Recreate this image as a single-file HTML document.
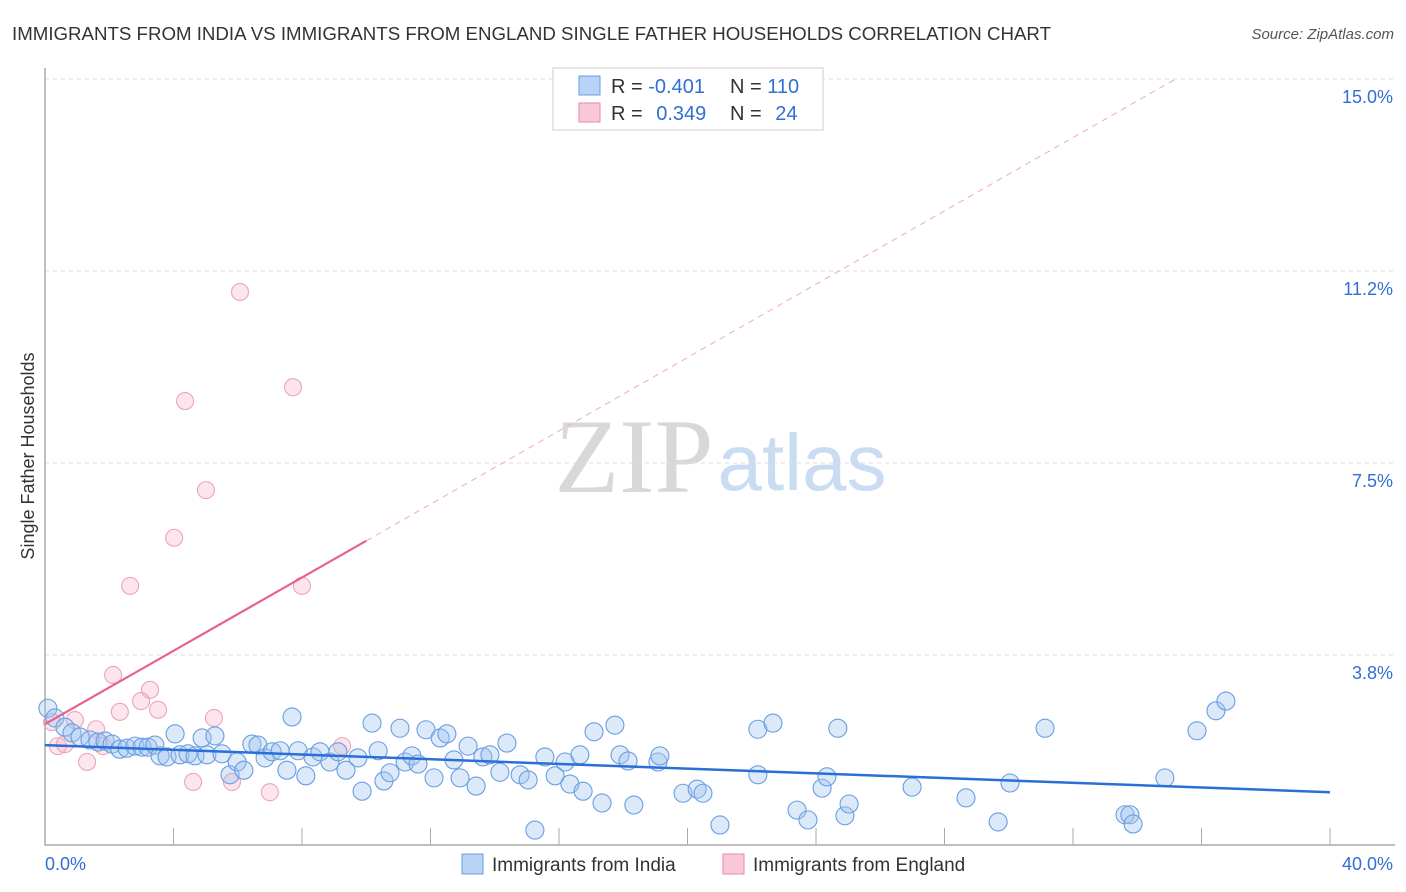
<!DOCTYPE html>
<html><head><meta charset="utf-8"><style>
body{margin:0;background:#fff;font-family:"Liberation Sans",sans-serif;}
svg{display:block}
</style></head><body>
<svg id="c" width="1406" height="892" xmlns="http://www.w3.org/2000/svg">
<text x="12" y="40" font-size="18" fill="#333" textLength="1039" lengthAdjust="spacingAndGlyphs">IMMIGRANTS FROM INDIA VS IMMIGRANTS FROM ENGLAND SINGLE FATHER HOUSEHOLDS CORRELATION CHART</text>
<text x="1394" y="39" font-size="15" fill="#555" text-anchor="end" font-style="italic">Source: ZipAtlas.com</text>
<g><text x="634" y="492" font-size="106" font-family="Liberation Serif,serif" fill="#d8d8d8" text-anchor="middle">ZIP</text><text x="802" y="490" font-size="80" fill="#c9dcf2" text-anchor="middle">atlas</text></g>
<text x="34" y="456" font-size="18" fill="#333" text-anchor="middle" transform="rotate(-90 34 456)">Single Father Households</text>
<g id="grid"></g><g id="axes"></g><g id="marks"></g>
<g>
<rect x="553" y="68" width="270" height="62" fill="#fff" stroke="#ccc"/>
<rect x="579" y="76" width="21" height="19" fill="#b8d3f5" stroke="#6a9de0"/>
<rect x="579" y="103" width="21" height="19" fill="#f9c8d6" stroke="#e58aa6"/>
<text x="611" y="93" font-size="20" fill="#333">R = <tspan fill="#2f6fd6">-0.401</tspan></text>
<text x="730" y="93" font-size="20" fill="#333">N = <tspan fill="#2f6fd6">110</tspan></text>
<text x="611" y="120" font-size="20" fill="#333">R = <tspan fill="#2f6fd6" dx="8">0.349</tspan></text>
<text x="730" y="120" font-size="20" fill="#333">N = <tspan fill="#2f6fd6" dx="8">24</tspan></text>
</g>
<g>
<rect x="462" y="854" width="21" height="20" fill="#b8d3f5" stroke="#6a9de0"/>
<text x="492" y="871" font-size="19" fill="#333">Immigrants from India</text>
<rect x="723" y="854" width="21" height="20" fill="#f9c8d6" stroke="#e58aa6"/>
<text x="753" y="871" font-size="19" fill="#333">Immigrants from England</text>
</g>
</svg>
<script>
const yTicks=[3.75,7.5,11.25,15];
const yTickLabels=["3.8%","7.5%","11.2%","15.0%"];
const xTickLabels=["0.0%","40.0%"];
const indiaX=[0.09,0.31,0.62,0.84,1.09,1.40,1.65,1.87,2.09,2.33,2.55,2.80,3.02,3.21,3.42,3.58,3.80,4.05,4.20,4.45,4.67,4.89,5.04,5.29,5.51,5.76,5.98,6.19,6.44,6.63,6.85,7.07,7.32,7.53,7.69,7.88,8.12,8.34,8.56,8.87,9.12,9.37,9.74,9.87,10.18,10.37,10.55,10.74,11.05,11.21,11.42,11.61,11.86,12.11,12.30,12.51,12.73,12.92,13.17,13.42,13.63,13.85,14.16,14.38,14.79,15.04,15.25,15.56,15.88,16.19,16.34,16.65,16.75,17.09,17.34,17.74,17.90,18.15,18.33,19.08,19.14,19.86,20.30,20.48,21.01,22.19,22.19,22.66,23.41,23.75,24.19,24.34,24.68,24.90,25.03,26.99,28.67,29.67,30.04,31.13,33.62,33.77,33.87,34.86,35.86,36.45,36.76];
const indiaY=[2.71,2.52,2.34,2.23,2.15,2.09,2.05,2.07,2.01,1.91,1.93,1.97,1.95,1.95,1.99,1.78,1.76,2.21,1.80,1.82,1.78,2.13,1.80,2.17,1.82,1.41,1.66,1.50,2.01,1.99,1.74,1.86,1.88,1.50,2.54,1.88,1.39,1.76,1.86,1.66,1.86,1.50,1.74,1.09,2.42,1.88,1.29,1.45,2.32,1.66,1.78,1.62,2.29,1.35,2.13,2.21,1.70,1.35,1.97,1.19,1.76,1.80,1.46,2.03,1.41,1.31,0.33,1.76,1.39,1.66,1.23,1.80,1.09,2.25,0.86,2.38,1.80,1.68,0.82,1.66,1.78,1.05,1.13,1.05,0.43,2.30,1.41,2.42,0.72,0.53,1.15,1.37,2.32,0.61,0.84,1.17,0.96,0.49,1.25,2.32,0.63,0.63,0.45,1.35,2.27,2.66,2.85];
const englandX=[0.22,0.40,0.62,0.93,1.31,1.59,1.81,2.12,2.33,2.65,2.99,3.27,3.52,4.02,4.36,4.61,5.01,5.26,5.82,6.07,7.00,7.72,8.00,9.25];
const englandY=[2.44,1.97,2.01,2.48,1.66,2.30,1.97,3.36,2.64,5.10,2.85,3.07,2.68,6.04,8.71,1.27,6.97,2.52,1.27,10.84,1.07,8.98,5.10,1.97];
const indiaTrend=[1.99,1.07];
const englandTrend=[2.40,0.358];
const NS="http://www.w3.org/2000/svg";
const X=v=>45+v*32.125, Y=v=>847-v*51.2;
function mk(t,a,p){const e=document.createElementNS(NS,t);for(const k in a)e.setAttribute(k,a[k]);p.appendChild(e);return e;}
const grid=document.getElementById('grid'),axes=document.getElementById('axes'),marks=document.getElementById('marks');
yTicks.forEach((t,i)=>{
 const l=mk('line',{x1:45,x2:1395,y1:Y(t),y2:Y(t),stroke:'#ddd','stroke-dasharray':'4,4'},grid);
 
 
 const tx=mk('text',{x:1393,y:Y(t)+24,'font-size':18,fill:'#2f6fd6','text-anchor':'end'},grid);
 tx.textContent=yTickLabels[i];
 
 
});
const ax=mk('path',{d:'M45 68V845H1395',fill:'none',stroke:'#aaa','stroke-width':1.5},axes);


for(let i=0;i<=10;i++){
 const tk=mk('line',{x1:X(i*4),x2:X(i*4),y1:828,y2:845,stroke:'#aaa'},axes);
 
 
}
[[0,'start',45],[40,'end',1393]].forEach((d,i)=>{
 const tx=mk('text',{x:d[2],y:870,'font-size':18,fill:'#2f6fd6','text-anchor':d[1]},axes);
 tx.textContent=xTickLabels[i];
 
 
});
englandX.forEach((x,i)=>{
 const c=mk('circle',{cx:X(x),cy:Y(englandY[i]),r:8.5,fill:'rgba(246,170,194,0.3)',stroke:'#eea3bb','stroke-width':1.1},marks);
 
 
});
indiaX.forEach((x,i)=>{
 const c=mk('circle',{cx:X(x),cy:Y(indiaY[i]),r:9,fill:'rgba(160,196,240,0.38)',stroke:'#6a9de2','stroke-width':1.1},marks);
 
 
});
const xEnd=(15-englandTrend[0])/englandTrend[1];
const pd=mk('line',{x1:X(10),y1:Y(englandTrend[0]+englandTrend[1]*10),x2:X(xEnd),y2:Y(15),stroke:'#eeaabd','stroke-dasharray':'6,5','stroke-width':1},marks);


const ps=mk('line',{x1:X(0),y1:Y(englandTrend[0]),x2:X(10),y2:Y(englandTrend[0]+englandTrend[1]*10),stroke:'#e8628e','stroke-width':2.2},marks);


const bl=mk('line',{x1:X(0),y1:Y(indiaTrend[0]),x2:X(40),y2:Y(indiaTrend[1]),stroke:'#2a6fd6','stroke-width':2.5},marks);


</script>
</body></html>
